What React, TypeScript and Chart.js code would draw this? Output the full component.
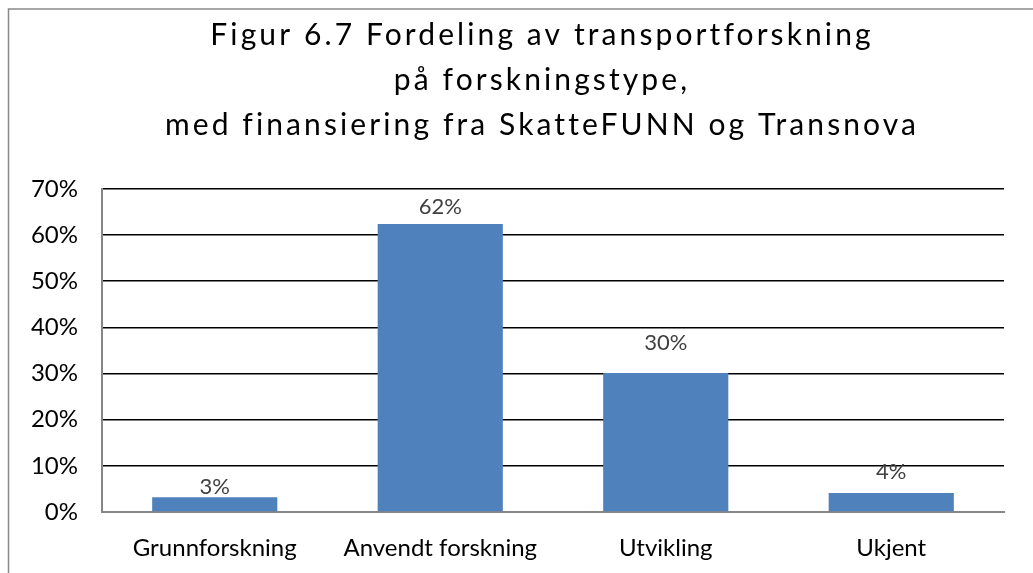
import React, { useEffect, useRef } from "react";
import { Chart, registerables } from "chart.js";

Chart.register(...registerables);

const categories = ["Grunnforskning", "Anvendt forskning", "Utvikling", "Ukjent"];
const shares = [3.2, 62.4, 30.1, 4.1];
const shareLabels = ["3%", "62%", "30%", "4%"];
const labelOffsets = [10, 17, 30, 21];
const titleLines = [
  "Figur 6.7 Fordeling av transportforskning",
  "på forskningstype,",
  "med finansiering fra SkatteFUNN og Transnova",
];

const framePlugin = {
  id: "frame",
  beforeDraw(chart: any) {
    const ctx = chart.ctx;
    ctx.save();
    ctx.fillStyle = "#ffffff";
    ctx.fillRect(0, 0, chart.width, chart.height);
    ctx.strokeStyle = "#898989";
    ctx.lineWidth = 1.5;
    ctx.strokeRect(8.5, 9, chart.width + 50, chart.height + 50);
    ctx.restore();
  },
};

const titlePlugin = {
  id: "spacedTitle",
  afterDraw(chart: any) {
    const ctx = chart.ctx;
    ctx.save();
    ctx.font = "30px Lato";
    (ctx as any).letterSpacing = "3.1px";
    ctx.fillStyle = "#000000";
    ctx.textAlign = "center";
    ctx.textBaseline = "alphabetic";
    titleLines.forEach((line, i) => {
      ctx.fillText(line, 542, 44.5 + i * 45);
    });
    ctx.restore();
  },
};

const valueLabelPlugin = {
  id: "valueLabels",
  afterDatasetsDraw(chart: any) {
    const ctx = chart.ctx;
    const meta = chart.getDatasetMeta(0);
    ctx.save();
    ctx.font = "22px Lato";
    ctx.fillStyle = "#404040";
    ctx.textAlign = "center";
    ctx.textBaseline = "middle";
    meta.data.forEach((bar: any, i: number) => {
      ctx.fillText(shareLabels[i], bar.x, bar.y - labelOffsets[i]);
    });
    ctx.restore();
  },
};

export default function App() {
  const ref = useRef<HTMLCanvasElement>(null);
  useEffect(() => {
    document.body.style.margin = "0";
    let chart: any = null;
    let cancelled = false;
    Promise.all([document.fonts.load('30px "Lato"'), document.fonts.load('24px "Lato"')])
      .catch(() => null)
      .then(() => {
        if (cancelled || !ref.current) return;
        chart = new Chart(ref.current, {
          type: "bar",
          data: {
            labels: categories,
            datasets: [
              {
                data: shares,
                backgroundColor: "#4F81BD",
                borderWidth: 0,
                barPercentage: 0.555,
                categoryPercentage: 1,
              },
            ],
          },
          options: {
            responsive: false,
            animation: false,
            layout: { padding: { top: 189, right: 29, bottom: 0, left: 0 } },
            plugins: {
              legend: { display: false },
              tooltip: { enabled: false },
              title: { display: false },
            },
            scales: {
              x: {
                grid: { display: false, drawTicks: false },
                border: { display: true, color: "#868686", width: 2 },
                ticks: { color: "#000000", font: { family: "Lato", size: 24 }, padding: 22 },
                afterFit(scale: any) {
                  scale.height = 61;
                },
              },
              y: {
                min: 0,
                max: 70,
                grid: { color: "#000000", lineWidth: 1.6, drawTicks: false },
                border: { display: true, color: "#868686", width: 2 },
                ticks: {
                  stepSize: 10,
                  color: "#000000",
                  font: { family: "Lato", size: 24 },
                  padding: 24,
                  callback: (v: any) => v + "%",
                },
                afterFit(scale: any) {
                  scale.width = 102;
                },
              },
            },
          },
          plugins: [framePlugin, valueLabelPlugin, titlePlugin],
        });
      });
    return () => {
      cancelled = true;
      if (chart) chart.destroy();
    };
  }, []);
  return <canvas ref={ref} width={1033} height={573} style={{ display: "block" }} />;
}
